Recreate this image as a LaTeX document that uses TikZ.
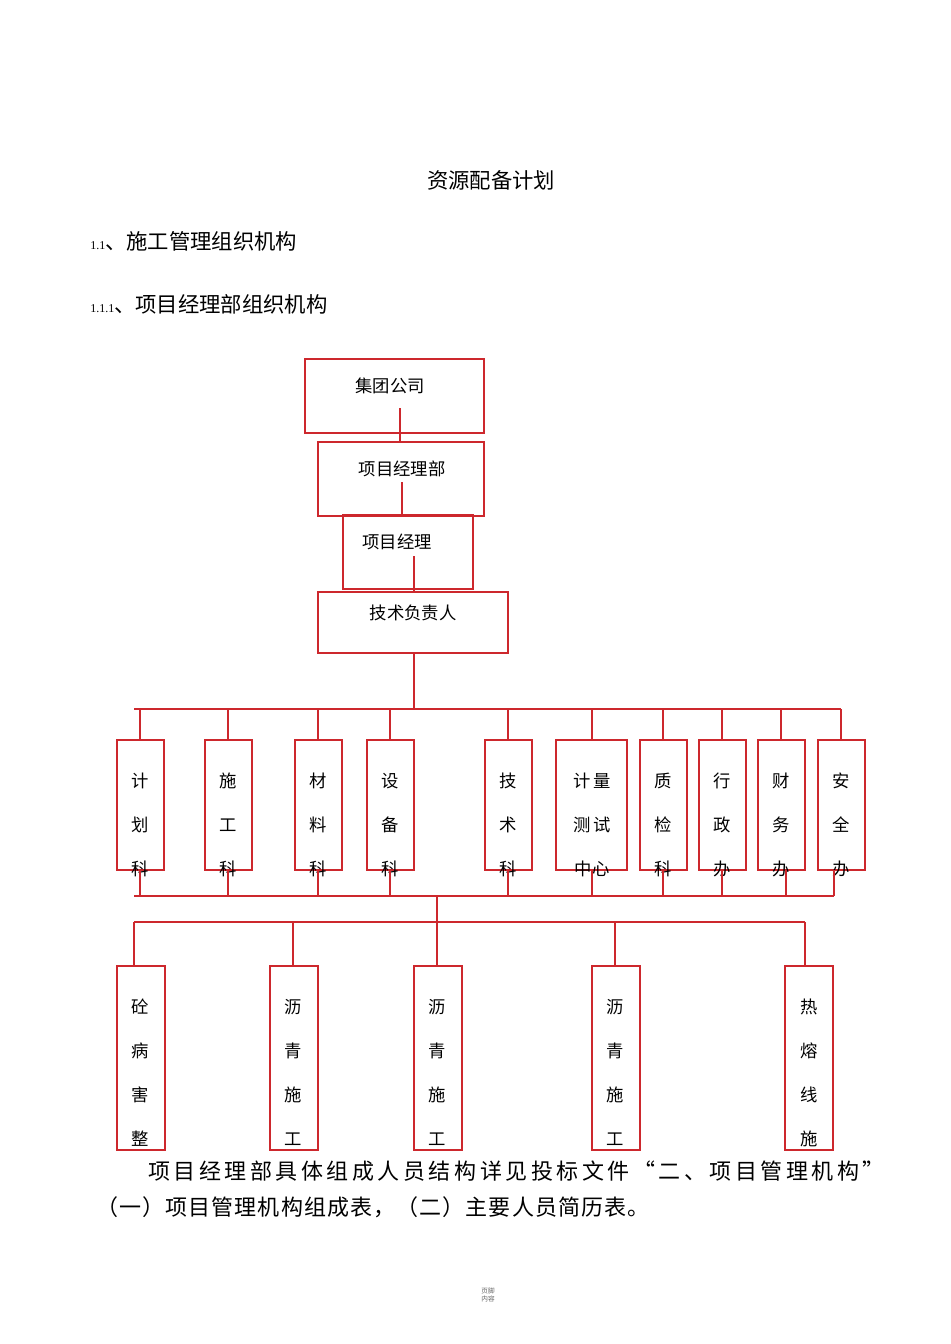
\documentclass[tikz,border=0pt]{standalone}
\usepackage{fontspec}
\setmainfont{Liberation Serif}
\newfontfamily\cjk{Noto Sans CJK SC}[Scale=1]
\newfontfamily\cjksp{Noto Sans CJK SC}[LetterSpace=16]
\newfontfamily\cjkspb{Noto Sans CJK SC}[LetterSpace=5]
\definecolor{rl}{RGB}{205,40,45}
\tikzset{
 bx/.style={draw=rl,line width=1.2pt,inner sep=0pt,anchor=north west},
 ln/.style={draw=rl,line width=1.1pt},
 lab/.style={font=\cjk\fontsize{13}{13}\selectfont,inner sep=0pt},
}
\begin{document}
\begin{tikzpicture}[x=0.75pt,y=-0.75pt]
\useasboundingbox[fill=white] (0,0) rectangle (950,1344);
\node[font=\cjk\fontsize{16}{16}\selectfont] (title) at (491,180) {资源配备计划};
\node[anchor=west,font=\cjk\fontsize{16}{16}\selectfont,inner sep=0pt] (h1) at (90,241) {{\rmfamily\fontsize{9}{9}\selectfont 1.1}、施工管理组织机构};
\node[anchor=west,font=\cjk\fontsize{16}{16}\selectfont,inner sep=0pt] (h2) at (90,304) {{\rmfamily\fontsize{9}{9}\selectfont 1.1.1}、项目经理部组织机构};
% top boxes
\draw[bx] (305,359) rectangle (484,433);
\draw[bx] (318,442) rectangle (484,516);
\draw[bx] (343,515) rectangle (473,589);
\draw[bx] (318,592) rectangle (508,653);
\node[lab] (a) at (390,386) {集团公司};
\node[lab] (b) at (402,469) {项目经理部};
\node[lab] (c) at (397,542) {项目经理};
\node[lab] (d) at (413,613) {技术负责人};
\coordinate (a1) at (400,408); \coordinate (a2) at (400,442);
\coordinate (b1) at (402,482); \coordinate (b2) at (402,515);
\coordinate (c1) at (414,556); \coordinate (c2) at (414,592);
\coordinate (d1) at (414,653); \coordinate (d2) at (414,709);
\draw[ln] (a1)--(a2); \draw[ln] (b1)--(b2); \draw[ln] (c1)--(c2); \draw[ln] (d1)--(d2);
\draw[ln] (134,709)--(841,709);
% middle boxes
\foreach \x/\l/\t in {140/117/{计,划,科},228/205/{施,工,科},318/295/{材,料,科},390/367/{设,备,科},508/485/{技,术,科},663/640/{质,检,科},722/699/{行,政,办},781/758/{财,务,办},841/818/{安,全,办}}{
 \draw[bx] (\l,740) rectangle (\l+47,870);
 \draw[ln] (\x,709)--(\x,740);
 \foreach \c [count=\i] in \t {\node[lab] at (\x,737+44*\i) {\c};}
}
\draw[bx] (556,740) rectangle (627,870);
\draw[ln] (592,709)--(592,740);
\node[lab] at (592,781) {计\,量};
\node[lab] at (592,825) {测\,试};
\node[lab] at (592,869) {中心};
% lower bus
\foreach \x in {140,228,318,390,508,592,663,722,786,834}{\draw[ln] (\x,870)--(\x,896);}
\draw[ln] (134,896)--(834,896);
\draw[ln] (437,896)--(437,922);
\draw[ln] (134,922)--(805,922);
\foreach \x/\l/\t/\d in {140/117/{砼,病,害,整}/134,293/270/{沥,青,施,工}/293,437/414/{沥,青,施,工}/437,615/592/{沥,青,施,工}/615,809/785/{热,熔,线,施}/805}{
 \draw[bx] (\l,966) rectangle (\l+48,1150);
 \draw[ln] (\d,922)--(\d,966);
 \foreach \c [count=\i] in \t {\node[lab] at (\x,963+44*\i) {\c};}
}
\node[anchor=west,inner sep=0pt,font=\cjksp\fontsize{16.5}{16.5}\selectfont] (p1) at (148,1171) {项目经理部具体组成人员结构详见投标文件“二、项目管理机构”};
\node[anchor=west,inner sep=0pt,font=\cjkspb\fontsize{16.5}{16.5}\selectfont] (p2) at (96,1207) {（一）项目管理机构组成表，（二）主要人员简历表。};
\node[align=center,font=\cjk\fontsize{5}{6}\selectfont,text=black!60,inner sep=0pt] (f) at (488,1295) {页脚\\内容};
\end{tikzpicture}
\end{document}
